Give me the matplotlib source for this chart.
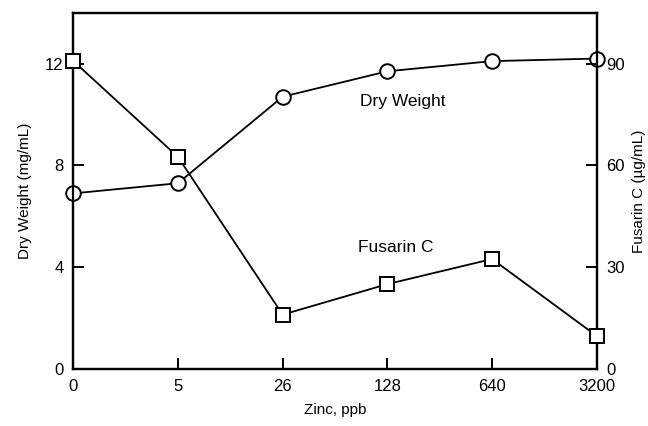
import matplotlib.pyplot as plt

plt.rcParams['font.family'] = ['Liberation Sans', 'DejaVu Sans']

zinc = ['0', '5', '26', '128', '640', '3200']
dry_weight = [6.9, 7.3, 10.7, 11.7, 12.1, 12.2]   # mg/mL
fusarin_c = [90.8, 62.5, 16.0, 25.0, 32.4, 9.7]   # ug/mL


def do_plot():
    fig = plt.figure(figsize=(6.48, 4.26), dpi=100)
    ax = fig.add_axes([0.113, 0.134, 0.808, 0.836])
    ax2 = ax.twinx()
    x = list(range(len(zinc)))

    ax.plot(x, dry_weight, '-o', color='black', markerfacecolor='white',
            markersize=10.5, linewidth=1.3, markeredgewidth=1.4, clip_on=False, zorder=3)
    ax2.plot(x, fusarin_c, '-s', color='black', markerfacecolor='white',
             markersize=10, linewidth=1.3, markeredgewidth=1.4, clip_on=False, zorder=3)

    ax.set_xlim(0, len(zinc) - 1)
    ax.set_ylim(0, 14)
    ax2.set_ylim(0, 105)
    ax.set_xticks(x)
    ax.set_xticklabels(zinc)
    ax.set_yticks([0, 4, 8, 12])
    ax2.set_yticks([0, 30, 60, 90])

    for a in (ax, ax2):
        a.tick_params(direction='in', length=8, width=1.4, labelsize=12, pad=7)
        for s in a.spines.values():
            s.set_linewidth(1.6)

    ax.set_xlabel('Zinc, ppb', fontsize=11, labelpad=7)
    ax.set_ylabel('Dry Weight (mg/mL)', fontsize=11, labelpad=9)
    ax2.set_ylabel('Fusarin C (\u00b5g/mL)', fontsize=11, rotation=90, labelpad=5)

    ax.text(3.15, 10.5, 'Dry Weight', fontsize=12.5, ha='center', va='center')
    ax2.text(3.08, 35.7, 'Fusarin C', fontsize=12.5, ha='center', va='center')

    fig.savefig('out.png', dpi=100)


if __name__ == '__main__':
    do_plot()
